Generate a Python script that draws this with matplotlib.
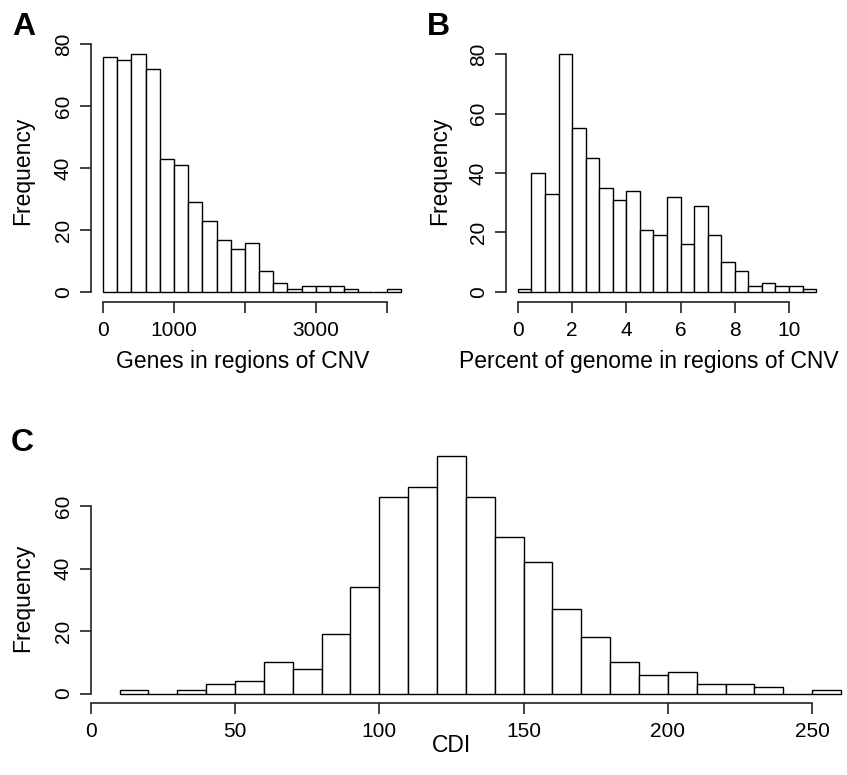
import matplotlib
matplotlib.use("Agg")
import matplotlib.pyplot as plt
import numpy as np

plt.rcParams['font.family'] = ['Liberation Sans', 'DejaVu Sans']

# panel A: genes in regions of CNV, bins of 200
genes_edges = np.arange(0, 4201, 200)
genes_counts = [76, 75, 77, 72, 43, 41, 29, 23, 17, 14, 16, 7, 3, 1, 2, 2, 2, 1, 0, 0, 1]
genes_ticks = [0, 1000, 2000, 3000, 4000]
genes_ticklabels = ['0', '1000', '', '3000', '']

# panel B: percent of genome, bins of 0.5
pct_edges = np.arange(0, 11.01, 0.5)
pct_counts = [1, 40, 33, 80, 55, 45, 35, 31, 34, 21, 19, 32, 16, 29, 19, 10, 7, 2, 3, 2, 2, 1]
pct_ticks = [0, 2, 4, 6, 8, 10]

# panel C: CDI, bins of 10
cdi_edges = np.arange(10, 261, 10)
cdi_counts = [1, 0, 1, 3, 4, 10, 8, 19, 34, 63, 66, 76, 63, 50, 42, 27, 18, 10, 6, 7, 3, 3, 2, 0, 1]
cdi_ticks = [0, 50, 100, 150, 200, 250]

W, H = 847, 775
fig = plt.figure(figsize=(W / 100, H / 100), dpi=100)


def px_axes(x0, x1, ytop, ybot):
    return fig.add_axes([x0 / W, 1 - ybot / H, (x1 - x0) / W, (ybot - ytop) / H])


def r_hist(ax, edges, counts, xticks, xlabels, yticks, xlim, ylim):
    edges = np.asarray(edges, dtype=float)
    ax.bar(edges[:-1], counts, width=np.diff(edges), align='edge',
           color='white', edgecolor='black', linewidth=1.0)
    ax.set_xlim(*xlim)
    ax.set_ylim(*ylim)
    for s in ['top', 'right']:
        ax.spines[s].set_visible(False)
    ax.spines['left'].set_bounds(yticks[0], yticks[-1])
    ax.spines['bottom'].set_bounds(xticks[0], xticks[-1])
    for s in ['left', 'bottom']:
        ax.spines[s].set_linewidth(1.2)
        ax.spines[s].set_color('#222222')
    ax.set_xticks(xticks)
    ax.set_xticklabels(xlabels)
    ax.set_yticks(yticks)
    ax.set_yticklabels([str(v) for v in yticks], rotation=90, va='center')
    ax.tick_params(length=8, width=1.2, labelsize=15, color='#222222')
    ax.tick_params(axis='x', pad=6)
    ax.tick_params(axis='y', pad=5)


def labels(ax, xlab, ylab, xlab_px, ylab_px, xc, yc):
    # xlab_px: (x, y) centre of x label, ylab_px: (x, y) centre of y label, in figure pixels
    ax.set_xlabel(xlab, fontsize=16.5, va='center', ha='center')
    ax.set_ylabel(ylab, fontsize=16.5, va='center', ha='center')
    inv = ax.transAxes.inverted()
    to_ax = lambda p: inv.transform(fig.transFigure.transform((p[0] / W, 1 - p[1] / H)))
    ax.xaxis.set_label_coords(*to_ax(xlab_px))
    ax.yaxis.set_label_coords(*to_ax(ylab_px))


# A
axA = px_axes(91, 413, 44, 302)
r_hist(axA, genes_edges, genes_counts, genes_ticks, genes_ticklabels,
       [0, 20, 40, 60, 80], (-168, 4368), (-3.08, 80.08))
labels(axA, 'Genes in regions of CNV', 'Frequency', (243, 362), (23, 171), 0, 0)

# B
axB = px_axes(506, 828, 44.5, 301.5)
r_hist(axB, pct_edges, pct_counts, pct_ticks, [str(v) for v in pct_ticks],
       [0, 20, 40, 60, 80], (-0.44, 11.44), (-3.2, 83.2))
labels(axB, 'Percent of genome in regions of CNV', 'Frequency', (649, 362), (440, 171), 0, 0)

# C
axC = px_axes(90.7, 847, 446.5, 703)
r_hist(axC, cdi_edges, cdi_counts, cdi_ticks, [str(v) for v in cdi_ticks],
       [0, 20, 40, 60], (0, (847 - 90.7) / 2.886), (-3.04, 79.04))
labels(axC, 'CDI', 'Frequency', (451, 745), (23, 598), 0, 0)

# panel letters
for lbl, x, y in [('A', 12, 12), ('B', 427, 12), ('C', 11, 428)]:
    fig.text(x / W, 1 - y / H, lbl, fontsize=23, fontweight='bold', ha='left', va='top')

fig.savefig('out.png', dpi=100)
